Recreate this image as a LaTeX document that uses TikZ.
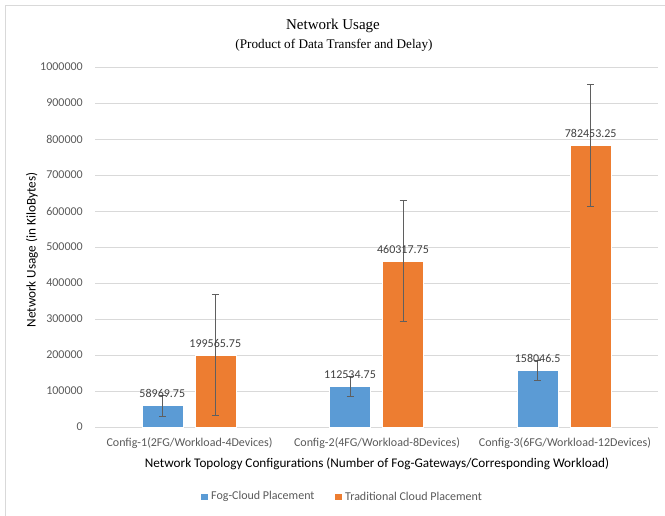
\documentclass[tikz,border=0pt]{standalone}
\usepackage{fontspec}
\setmainfont{Carlito}
\newfontfamily\titlefont{Liberation Serif}
\definecolor{fogblue}{HTML}{5B9BD5}
\definecolor{cloudorange}{HTML}{ED7D31}
\definecolor{gridgray}{HTML}{D9D9D9}
\definecolor{ticktext}{HTML}{595959}
\definecolor{valtext}{HTML}{404040}
\definecolor{errgray}{HTML}{5F5F5F}
\tikzset{
  gridline/.style={draw=gridgray, line width=0.9pt},
  ticklabel/.style={anchor=east, inner sep=0pt, text=ticktext, font=\fontsize{12}{13}\selectfont},
  catlabel/.style={inner sep=0pt, text=ticktext, font=\fontsize{12}{13}\selectfont},
  axistitle/.style={inner sep=0pt, text=black, font=\fontsize{13.2}{14}\selectfont},
  vallabel/.style={inner sep=0pt, text=valtext, font=\fontsize{12}{13}\selectfont},
  fogbar/.style={fill=fogblue, draw=white, line width=0.6pt},
  cloudbar/.style={fill=cloudorange, draw=white, line width=0.6pt},
  errbar/.style={draw=errgray, line width=0.9pt},
  legendtext/.style={anchor=west, inner sep=0pt, text=ticktext, font=\fontsize{12}{13}\selectfont},
}
\begin{document}
\begin{tikzpicture}[x=1pt, y=-1pt]
  \useasboundingbox (0,0) rectangle (665,516);
  % chart area frame
  \draw[gridgray, line width=0.9pt] (5,516) -- (5,5) -- (665,5);

  % titles
  \node[inner sep=0pt, font=\titlefont\fontsize{15}{17}\selectfont] (title) at (333,26) {Network Usage};
  \node[inner sep=0pt, font=\titlefont\fontsize{13.2}{14}\selectfont] (subtitle) at (334,45) {(Product of Data Transfer and Delay)};

  % value axis: gridlines and tick labels (36 px per 100000)
  \foreach \k/\lab in {0/0,1/100000,2/200000,3/300000,4/400000,5/500000,6/600000,7/700000,8/800000,9/900000,10/1000000}{
    \draw[gridline] (95,{427-36*\k}) -- (658,{427-36*\k});
    \node[ticklabel] (ytick\k) at (83,{427-36*\k}) {\lab};
  }
  \node[axistitle, rotate=90] (ytitle) at (32,250) {Network Usage (in KiloBytes)};

  % bars: index / centre / fog top / fog error / cloud top / cloud error / labels
  \foreach \i/\c/\ft/\fe/\ot/\oe/\fl/\ol in {
      1/188.8/405.77/10.26/355.16/60.48/58969.75/199565.75,
      2/376.5/386.49/9.72/261.29/60.48/112534.75/460317.75,
      3/564.2/370.10/10.08/145.32/60.84/158046.5/782453.25}{
    \fill[fogbar] ({\c-47},427) rectangle ({\c-6},\ft);
    \fill[cloudbar] ({\c+6},427) rectangle ({\c+47},\ot);
    \draw[fogbar] ({\c-47},427) rectangle ({\c-6},\ft);
    \draw[cloudbar] ({\c+6},427) rectangle ({\c+47},\ot);
    % error bars
    \draw[errbar] ({\c-26.5},{\ft-\fe}) -- ({\c-26.5},{\ft+\fe})
                  ({\c-30},{\ft-\fe}) -- ({\c-23},{\ft-\fe})
                  ({\c-30},{\ft+\fe}) -- ({\c-23},{\ft+\fe});
    \draw[errbar] ({\c+26.5},{\ot-\oe}) -- ({\c+26.5},{\ot+\oe})
                  ({\c+23},{\ot-\oe}) -- ({\c+30},{\ot-\oe})
                  ({\c+23},{\ot+\oe}) -- ({\c+30},{\ot+\oe});
    % data labels
    \node[vallabel] (fogval\i) at ({\c-26.5},{\ft-12}) {\fl};
    \node[vallabel] (cloudval\i) at ({\c+26.5},{\ot-12}) {\ol};
  }

  % category labels
  \node[catlabel] (cat1) at (189.5,443) {Config-1(2FG/Workload-4Devices)};
  \node[catlabel] (cat2) at (377,443) {Config-2(4FG/Workload-8Devices)};
  \node[catlabel] (cat3) at (565,443) {Config-3(6FG/Workload-12Devices)};
  \node[axistitle] (xtitle) at (377,464) {Network Topology Configurations (Number of Fog-Gateways/Corresponding Workload)};

  % legend
  \fill[fogblue] (201,493.5) rectangle (207.5,500);
  \node[legendtext] (legfog) at (211,496.7) {Fog-Cloud Placement};
  \fill[cloudorange] (335,493.5) rectangle (341.5,500);
  \node[legendtext] (legcloud) at (345,496.7) {Traditional Cloud Placement};
\end{tikzpicture}
\end{document}
